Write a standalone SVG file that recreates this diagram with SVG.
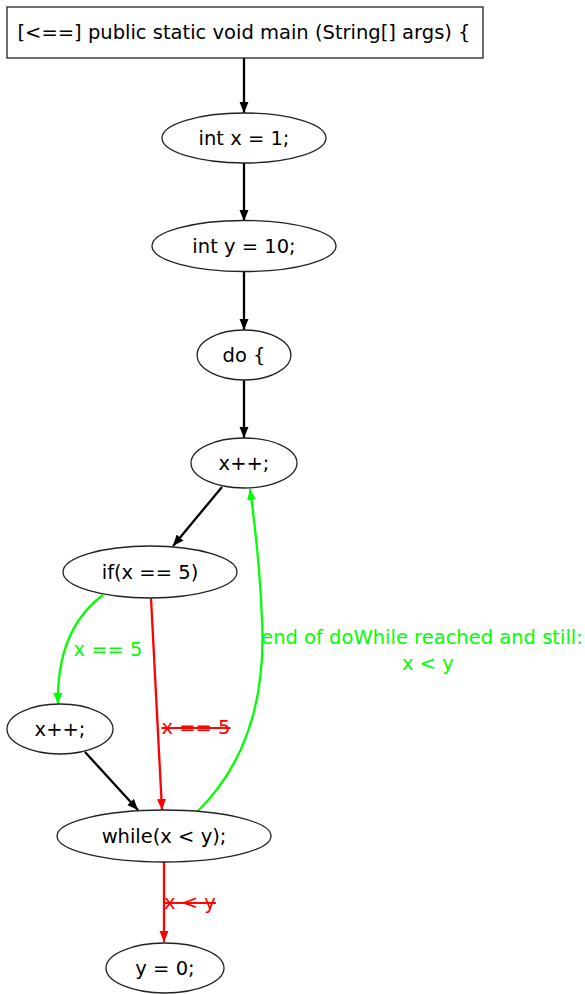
<svg xmlns="http://www.w3.org/2000/svg" width="585" height="994" viewBox="0 0 585 994">
  <style>
    .node { fill: #ffffff; stroke: #222222; stroke-width: 1.3; }
    .lbl { font-family: "DejaVu Sans", sans-serif; font-size: 19.5px; fill: #000000; text-anchor: middle; }
    .elbl { font-family: "DejaVu Sans", sans-serif; font-size: 19.5px; text-anchor: middle; }
    .e { fill: none; stroke-width: 2.3; }
    .blk { stroke: #000000; }
    .grn { stroke: #00ff00; }
    .red { stroke: #ff0000; }
  </style>
  <defs>
    <marker id="ah-black" markerUnits="userSpaceOnUse" markerWidth="12" markerHeight="10" refX="11" refY="5" orient="auto">
      <path d="M0,0.5 L11,5 L0,9.5 z" fill="#000000"/>
    </marker>
    <marker id="ah-green" markerUnits="userSpaceOnUse" markerWidth="12" markerHeight="10" refX="11" refY="5" orient="auto">
      <path d="M0,0.5 L11,5 L0,9.5 z" fill="#00ff00"/>
    </marker>
    <marker id="ah-red" markerUnits="userSpaceOnUse" markerWidth="12" markerHeight="10" refX="11" refY="5" orient="auto">
      <path d="M0,0.5 L11,5 L0,9.5 z" fill="#ff0000"/>
    </marker>
  </defs>

  <g id="connectors">
    <path class="e blk" d="M244,58 L244,113" marker-end="url(#ah-black)"/>
    <path class="e blk" d="M244,163 L244,221" marker-end="url(#ah-black)"/>
    <path class="e blk" d="M244,272 L244,330" marker-end="url(#ah-black)"/>
    <path class="e blk" d="M244,380 L244,438" marker-end="url(#ah-black)"/>
    <path class="e blk" d="M222,487 L173,546" marker-end="url(#ah-black)"/>
    <path class="e grn" d="M103,595 C72,618 57,655 58,704" marker-end="url(#ah-green)"/>
    <text class="elbl" x="108" y="656" fill="#00ff00">x == 5</text>
    <path class="e red" d="M151,598 L162,810" marker-end="url(#ah-red)"/>
    <text class="elbl" x="196" y="734" fill="#ff0000" text-decoration="line-through">x == 5</text>
    <path class="e blk" d="M85,752 L138,810" marker-end="url(#ah-black)"/>
    <path class="e grn" d="M197,812 C245,765 266,700 262,620 C260,565 255,525 250,489" marker-end="url(#ah-green)"/>
    <text class="elbl" x="422" y="644" fill="#00ff00">end of doWhile reached and still:</text>
    <text class="elbl" x="428" y="670" fill="#00ff00">x &lt; y</text>
    <path class="e red" d="M164,862 L164,942" marker-end="url(#ah-red)"/>
    <text class="elbl" x="190" y="909" fill="#ff0000" text-decoration="line-through">x &lt; y</text>
  </g>

  <g id="main">
    <rect class="node" x="7" y="7" width="476" height="51"/>
    <text class="lbl" x="244" y="39">[&lt;==] public static void main (String[] args) {</text>
  </g>
  <g id="int-x">
    <ellipse class="node" cx="244" cy="138" rx="82" ry="25"/>
    <text class="lbl" x="244" y="145">int x = 1;</text>
  </g>
  <g id="int-y">
    <ellipse class="node" cx="244" cy="246" rx="92" ry="25.5"/>
    <text class="lbl" x="244" y="253">int y = 10;</text>
  </g>
  <g id="do">
    <ellipse class="node" cx="244" cy="355" rx="47" ry="25"/>
    <text class="lbl" x="244" y="362">do {</text>
  </g>
  <g id="inc-1">
    <ellipse class="node" cx="244" cy="463" rx="53" ry="25"/>
    <text class="lbl" x="244" y="470">x++;</text>
  </g>
  <g id="if">
    <ellipse class="node" cx="150" cy="572" rx="87" ry="26"/>
    <text class="lbl" x="150" y="579">if(x == 5)</text>
  </g>
  <g id="inc-2">
    <ellipse class="node" cx="60" cy="729" rx="53" ry="25"/>
    <text class="lbl" x="60" y="736">x++;</text>
  </g>
  <g id="while">
    <ellipse class="node" cx="164" cy="836" rx="107" ry="26"/>
    <text class="lbl" x="164" y="843">while(x &lt; y);</text>
  </g>
  <g id="y-zero">
    <ellipse class="node" cx="165" cy="968" rx="59" ry="25"/>
    <text class="lbl" x="165" y="975">y = 0;</text>
  </g>
</svg>
